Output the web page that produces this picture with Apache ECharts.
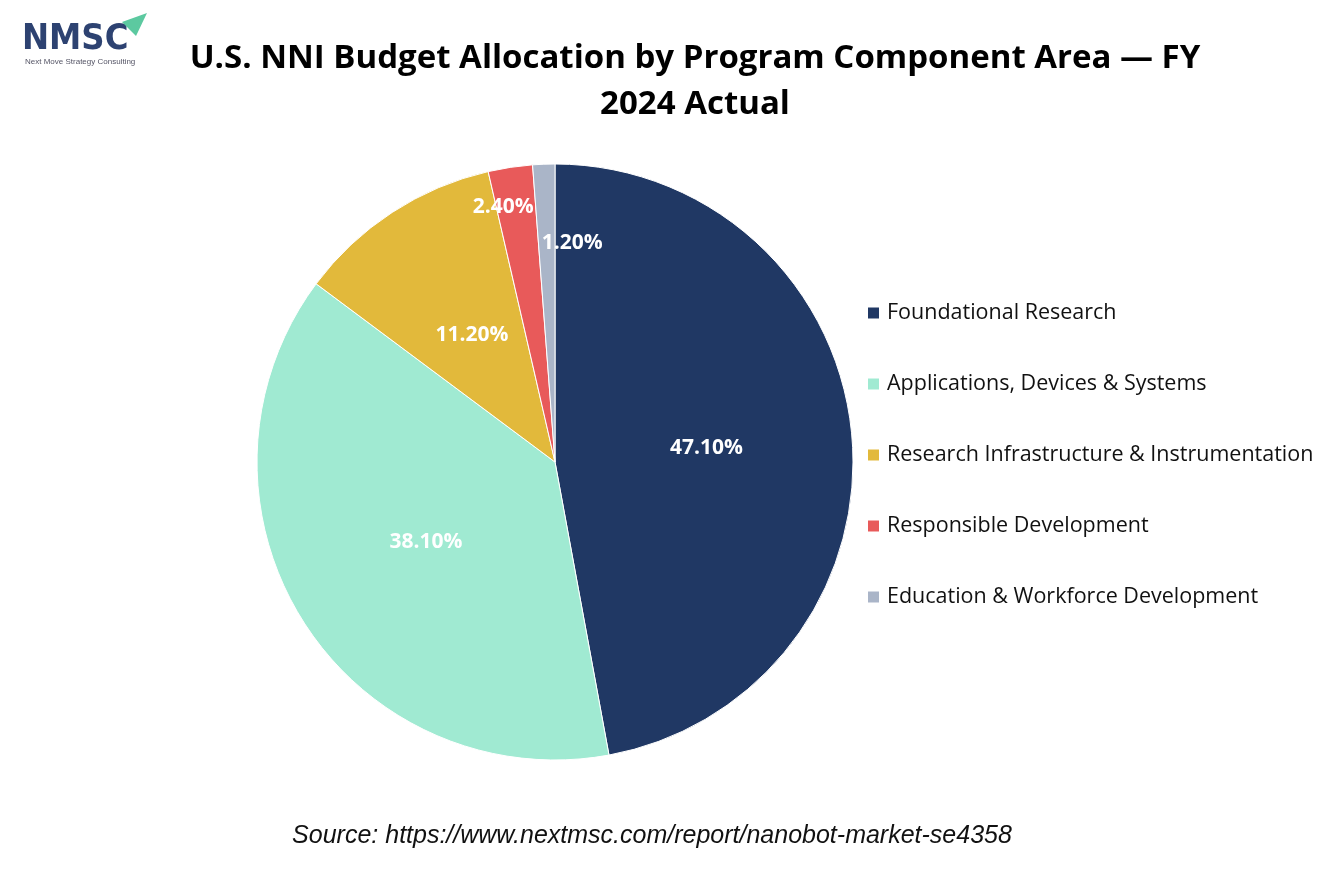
<!DOCTYPE html>
<html><head><meta charset="utf-8">
<script src="https://cdn.jsdelivr.net/npm/echarts@6/dist/echarts.min.js"></script>
<style>html,body{margin:0;padding:0;background:#fff}#c{width:1334px;height:889px}</style>
</head><body><div id="c"></div>
<script>
const categories = ["Foundational Research","Applications, Devices & Systems","Research Infrastructure & Instrumentation","Responsible Development","Education & Workforce Development"];
const shares = [47.1, 38.1, 11.2, 2.4, 1.2];
const colors = ["#203864","#A0EAD2","#E2B93B","#E85A5A","#AAB5C8"];
const labelNudge = [[0,0],[0,0],[0,0],[-29,-105],[23,-67]];

const chart = echarts.init(document.getElementById('c'));
chart.setOption({
  animation:false,
  color: colors,
  title:{
    text:"U.S. NNI Budget Allocation by Program Component Area — FY\n2024 Actual",
    left:690, top:31, textAlign:'center',
    textStyle:{fontFamily:'"Open Sans", sans-serif', fontWeight:'bold', fontSize:33, color:'#000', lineHeight:46}
  },
  legend:{
    orient:'vertical', left:866, top:302, padding:0, itemGap:49, itemWidth:13, itemHeight:13, icon:'rect',
    textStyle:{fontFamily:'"Open Sans", sans-serif', fontSize:21.5, color:'#111', padding:[0,0,0,2]},
    data:categories
  },
  graphic:[
    {type:'text', left:22, top:22, style:{text:'NMSC', font:'bold 36px "DejaVu Sans Condensed", "DejaVu Sans", sans-serif', fill:'#2D4271'}},
    {type:'polygon', shape:{points:[[122,22],[147,13],[136,36]]}, style:{fill:'#5CC9A0'}},
    {type:'text', left:25, top:58, style:{text:'Next Move Strategy Consulting', font:'8px "Liberation Sans", sans-serif', fill:'#556'}},
    {type:'text', x:652, y:824, style:{text:'Source: https://www.nextmsc.com/report/nanobot-market-se4358', font:'italic 25px "Liberation Sans", Arial, sans-serif', fill:'#111', align:'center', verticalAlign:'top'}}
  ],
  series:[{
    type:'pie', center:[555,462], radius:[0,298], startAngle:90, clockwise:true,
    itemStyle:{borderColor:'#fff', borderWidth:1},
    label:{show:true, position:'inside', formatter:p=>p.value.toFixed(2)+'%', color:'#fff', fontWeight:'bold', fontSize:21, fontFamily:'"Open Sans", sans-serif'},
    labelLayout:function(p){const n=labelNudge[p.dataIndex];return {dx:n[0],dy:n[1]};},
    emphasis:{disabled:true},
    data:categories.map((c,i)=>({name:c,value:shares[i]}))
  }]
});
</script></body></html>
